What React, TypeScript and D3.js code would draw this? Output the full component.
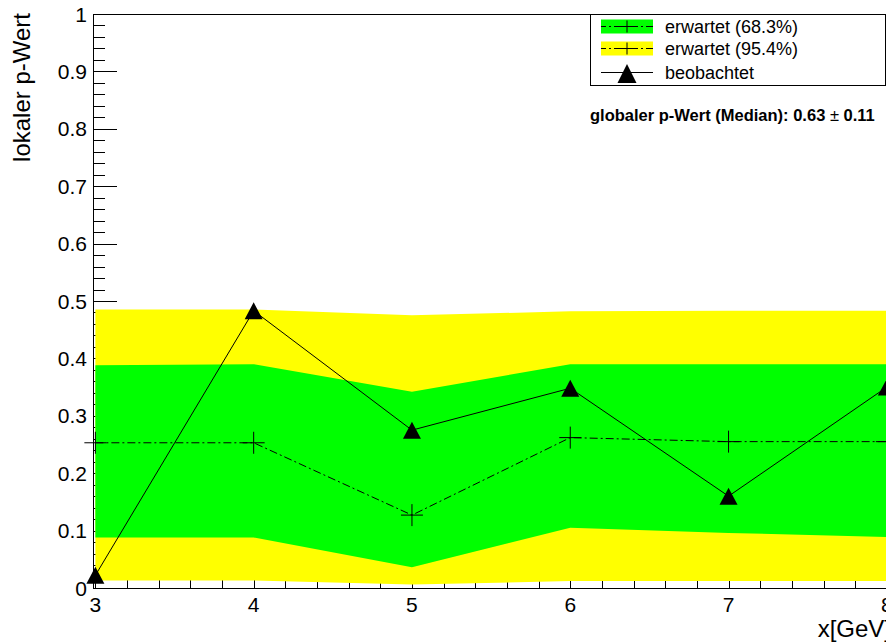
import { useEffect, useRef } from "react";
import * as d3 from "d3";

// mass points and p-values
const massPoints = [3, 4, 5, 6, 7, 8];
const expectedMedian = [0.253, 0.253, 0.127, 0.262, 0.255, 0.255];
const band68Low = [0.088, 0.088, 0.036, 0.105, 0.096, 0.089];
const band68High = [0.388, 0.39, 0.342, 0.39, 0.39, 0.39];
const band95Low = [0.013, 0.013, 0.006, 0.012, 0.012, 0.012];
const band95High = [0.485, 0.485, 0.475, 0.482, 0.483, 0.483];
const observed = [0.022, 0.483, 0.275, 0.348, 0.16, 0.35];

const legendLabels = ["erwartet (68.3%)", "erwartet (95.4%)", "beobachtet"];
const yTickValues = [0, 0.1, 0.2, 0.3, 0.4, 0.5, 0.6, 0.7, 0.8, 0.9, 1];
const xTickValues = [3, 4, 5, 6, 7, 8];

const FONT = "'Liberation Sans', Arial, Helvetica, sans-serif";

const App = () => {
  const svgRef = useRef<SVGSVGElement | null>(null);
  const width = 886;
  const height = 643;

  useEffect(() => {
    const svg = d3.select(svgRef.current);
    svg.selectAll("*").remove();

    const left = 93;
    const top = 14;
    const bottom = 588;
    const right = 890;

    const x = d3.scaleLinear().domain([2.985, 8.02]).range([left, right]);
    const y = d3.scaleLinear().domain([0, 1]).range([bottom, top]);

    // minor/major ticks first, the bands cover them
    const yMinor = d3.range(0, 1.0001, 0.02);
    svg
      .append("g")
      .selectAll("line")
      .data(yMinor)
      .enter()
      .append("line")
      .attr("x1", left)
      .attr("x2", (d) => (Math.abs(Math.round(d * 10) - d * 10) < 1e-6 ? left + 24 : left + 12))
      .attr("y1", (d) => Math.round(y(d)) + 0.5)
      .attr("y2", (d) => Math.round(y(d)) + 0.5)
      .attr("stroke", "#000")
      .attr("stroke-width", 1);

    const xMinor = d3.range(3, 8.0001, 0.2);
    svg
      .append("g")
      .selectAll("line")
      .data(xMinor)
      .enter()
      .append("line")
      .attr("x1", (d) => Math.round(x(d)) + 0.5)
      .attr("x2", (d) => Math.round(x(d)) + 0.5)
      .attr("y1", bottom)
      .attr("y2", (d) => (Math.abs(Math.round(d) - d) < 1e-6 ? bottom - 16 : bottom - 8))
      .attr("stroke", "#000")
      .attr("stroke-width", 1);

    // bands
    const bandArea = (lo: number[], hi: number[]) =>
      d3
        .area<number>()
        .x((d, i) => x(massPoints[i]))
        .y0((d, i) => y(lo[i]))
        .y1((d, i) => y(hi[i]))(massPoints);

    svg.append("path").attr("d", bandArea(band95Low, band95High)).attr("fill", "#ffff00");
    svg.append("path").attr("d", bandArea(band68Low, band68High)).attr("fill", "#00ff00");

    // expected median
    const lineGen = (vals: number[]) =>
      d3
        .line<number>()
        .x((d, i) => x(massPoints[i]))
        .y((d, i) => y(vals[i]))(massPoints);

    svg
      .append("path")
      .attr("d", lineGen(expectedMedian))
      .attr("fill", "none")
      .attr("stroke", "#000")
      .attr("stroke-width", 1)
      .attr("stroke-dasharray", "8,3,2,3");

    const cross = (g: any, cx: number, cy: number, s: number) => {
      g.append("line").attr("x1", cx - s).attr("x2", cx + s).attr("y1", cy).attr("y2", cy).attr("stroke", "#000");
      g.append("line").attr("x1", cx).attr("x2", cx).attr("y1", cy - s).attr("y2", cy + s).attr("stroke", "#000");
    };
    const gExp = svg.append("g");
    massPoints.forEach((m, i) => cross(gExp, x(m), y(expectedMedian[i]), 11));

    // observed
    svg
      .append("path")
      .attr("d", lineGen(observed))
      .attr("fill", "none")
      .attr("stroke", "#000")
      .attr("stroke-width", 1);

    const tri = (cx: number, cy: number, w: number, h: number) =>
      `M${cx},${cy - h / 2}L${cx + w / 2},${cy + h / 2}L${cx - w / 2},${cy + h / 2}Z`;
    svg
      .append("g")
      .selectAll("path")
      .data(massPoints)
      .enter()
      .append("path")
      .attr("d", (d, i) => tri(x(d), y(observed[i]), 18, 17))
      .attr("fill", "#000");

    // frame / axes lines
    svg
      .append("rect")
      .attr("x", left + 0.5)
      .attr("y", top + 0.5)
      .attr("width", right - left)
      .attr("height", bottom - top)
      .attr("fill", "none")
      .attr("stroke", "#000")
      .attr("stroke-width", 1);

    // y tick labels
    svg
      .append("g")
      .selectAll("text")
      .data(yTickValues)
      .enter()
      .append("text")
      .attr("x", 87)
      .attr("y", (d) => y(d) + 7.5)
      .attr("text-anchor", "end")
      .attr("font-family", FONT)
      .attr("font-size", 21)
      .attr("fill", "#000")
      .text((d) => d3.format("~g")(d));

    // x tick labels
    svg
      .append("g")
      .selectAll("text")
      .data(xTickValues)
      .enter()
      .append("text")
      .attr("x", (d) => x(d))
      .attr("y", 612)
      .attr("text-anchor", "middle")
      .attr("font-family", FONT)
      .attr("font-size", 21)
      .attr("fill", "#000")
      .text((d) => d);

    // axis titles
    svg
      .append("text")
      .attr("transform", "translate(29.5,13) rotate(-90)")
      .attr("text-anchor", "end")
      .attr("font-family", FONT)
      .attr("font-size", 24)
      .attr("fill", "#000")
      .text("lokaler p-Wert");

    svg
      .append("text")
      .attr("x", 891)
      .attr("y", 637)
      .attr("text-anchor", "end")
      .attr("font-family", FONT)
      .attr("font-size", 24)
      .attr("fill", "#000")
      .text("x[GeV]");

    // legend
    const lg = svg.append("g");
    lg.append("rect")
      .attr("x", 590.5)
      .attr("y", 14.5)
      .attr("width", 295)
      .attr("height", 71)
      .attr("fill", "#fff")
      .attr("stroke", "#000")
      .attr("stroke-width", 1);

    const rowY = [26.5, 48.5, 72.5];
    const swatchFill = ["#00ff00", "#ffff00"];
    [0, 1].forEach((k) => {
      lg.append("rect")
        .attr("x", 601)
        .attr("y", rowY[k] - 7)
        .attr("width", 52)
        .attr("height", 14)
        .attr("fill", swatchFill[k]);
      lg.append("line")
        .attr("x1", 601)
        .attr("x2", 653)
        .attr("y1", rowY[k])
        .attr("y2", rowY[k])
        .attr("stroke", "#000")
        .attr("stroke-dasharray", "8,3,2,3")
        .attr("stroke-dashoffset", 3);
      cross(lg, 627, rowY[k], 6);
    });
    lg.append("line")
      .attr("x1", 601)
      .attr("x2", 653)
      .attr("y1", rowY[2])
      .attr("y2", rowY[2])
      .attr("stroke", "#000");
    lg.append("path").attr("d", tri(627, rowY[2] + 1, 19, 19)).attr("fill", "#000");

    lg.selectAll("text.lab")
      .data(legendLabels)
      .enter()
      .append("text")
      .attr("class", "lab")
      .attr("x", 665)
      .attr("y", (d, i) => rowY[i] + 6.5)
      .attr("font-family", FONT)
      .attr("font-size", 18)
      .attr("fill", "#000")
      .text((d) => d);

    // global p-value annotation
    const ann = svg
      .append("text")
      .attr("x", 590)
      .attr("y", 121)
      .attr("font-family", FONT)
      .attr("font-size", 16.5)
      .attr("font-weight", "bold")
      .attr("fill", "#000");
    ann.append("tspan").text("globaler p-Wert (Median): 0.63 ");
    ann.append("tspan").attr("font-weight", "normal").text("±");
    ann.append("tspan").text(" 0.11");
  }, []);

  return (
    <svg
      ref={svgRef}
      width={width}
      height={height}
      style={{ position: "absolute", left: 0, top: 0, background: "#fff" }}
    ></svg>
  );
};

export default App;
